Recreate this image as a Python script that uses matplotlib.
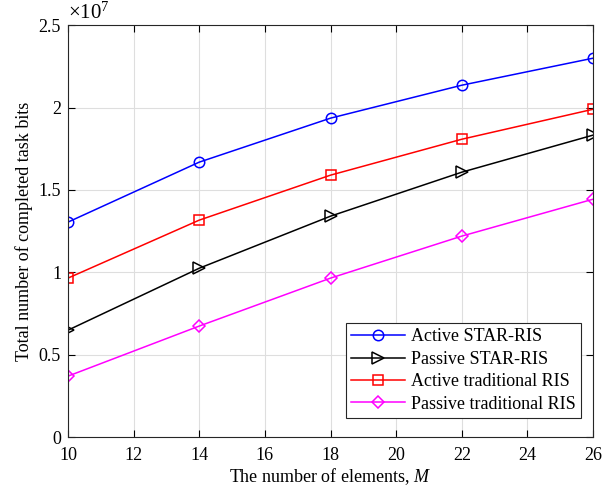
import matplotlib
matplotlib.use("Agg")
import matplotlib.pyplot as plt
import numpy as np

M = [10, 14, 18, 22, 26]
active_star = [1.305e7, 1.669e7, 1.936e7, 2.136e7, 2.30e7]
passive_star = [0.649e7, 1.025e7, 1.341e7, 1.608e7, 1.833e7]
active_trad = [0.965e7, 1.317e7, 1.590e7, 1.808e7, 1.990e7]
passive_trad = [0.370e7, 0.674e7, 0.965e7, 1.220e7, 1.444e7]
labels = ["Active STAR-RIS", "Passive STAR-RIS", "Active traditional RIS", "Passive traditional RIS"]

plt.rcParams['font.family'] = ['Liberation Serif', 'DejaVu Serif']
plt.rcParams['mathtext.fontset'] = 'custom'
plt.rcParams['mathtext.it'] = 'Liberation Serif:italic'
plt.rcParams['mathtext.rm'] = 'Liberation Serif'

fig = plt.figure(figsize=(6.07, 4.95), dpi=100)
ax = fig.add_axes([0.112, 0.117, 0.865, 0.832])

series = [active_star, passive_star, active_trad, passive_trad]
colors = ['#0000ff', '#000000', '#ff0000', '#ff00ff']
markers = ['o', '>', 's', 'D']
msizes = [7.5, 8.5, 6.5, 6.5]
for y, c, m, ms, lab in zip(series, colors, markers, msizes, labels):
    ax.plot(M, y, color=c, marker=m, markersize=ms, markerfacecolor='none',
            markeredgecolor=c, linewidth=1.1, markeredgewidth=1.1, label=lab)

ax.set_xlim(10, 26)
ax.set_ylim(0, 2.5e7)
ax.set_xticks(np.arange(10, 27, 2))
ax.set_yticks(np.arange(0, 2.51e7, 0.5e7))
ax.set_yticklabels(['0', '0.5', '1', '1.5', '2', '2.5'])
ax.text(0.0, 1.003, r'$\times10^7$', transform=ax.transAxes, fontsize=15, va='bottom', ha='left')
ax.grid(True, color='#dedede', linewidth=0.8)
ax.set_axisbelow(True)
ax.tick_params(direction='in', top=True, right=True, labelsize=13, length=5, width=0.8)
ax.tick_params(axis='x', pad=7)
ax.tick_params(axis='y', pad=5)
for s in ax.spines.values():
    s.set_linewidth(0.8)
    s.set_color('#262626')
ax.set_xlabel(r'The number of elements, $M$', fontsize=13, labelpad=2)
ax.set_ylabel('Total number of completed task bits', fontsize=13)
leg = ax.legend(loc='lower right', fontsize=13, fancybox=False, edgecolor='#262626',
                framealpha=1, borderpad=0.3, labelspacing=0.3, handlelength=3.0,
                handletextpad=0.3, borderaxespad=0, bbox_to_anchor=(0.977, 0.046))
leg.get_frame().set_linewidth(0.8)
fig.savefig('out.png', dpi=100)
